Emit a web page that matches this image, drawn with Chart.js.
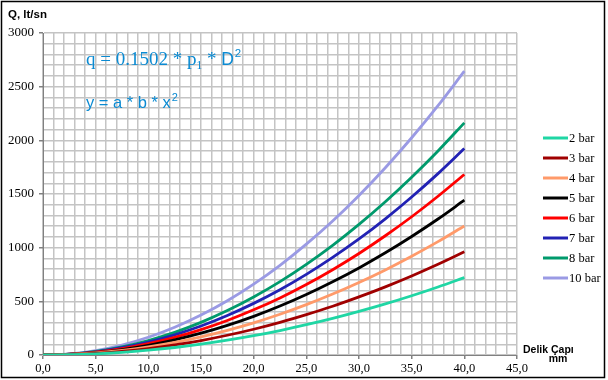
<!DOCTYPE html>
<html>
<head>
<meta charset="utf-8">
<script src="https://cdn.jsdelivr.net/npm/chart.js@4"></script>
<style>
  html, body { margin: 0; padding: 0; background: #fff; }
  #wrap { width: 608px; height: 380px; position: relative; }
  .pre { position: absolute; left: -9999px; top: 0; }
</style>
</head>
<body>
<div id="wrap"><canvas id="c" width="608" height="380"></canvas></div>
<span class="pre" style="font-family:'Liberation Serif'">0,5 bar q</span>
<span class="pre" style="font-family:'Liberation Sans';font-weight:bold">Delik Çapı</span>
<span class="pre" style="font-family:'Liberation Sans'">y = a</span>
<script>
// Hole diameter, mm
const diameters = [0, 2.5, 5, 7.5, 10, 12.5, 15, 17.5, 20, 22.5, 25, 27.5, 30, 32.5, 35, 37.5, 40];
// Flow Q (lt/sn)
const bar2  = [0, 3, 11, 25, 45, 70, 101, 138, 180, 228, 282, 341, 406, 476, 552, 634, 721];
const bar3  = [0, 4, 15, 34, 60, 94, 135, 184, 240, 304, 376, 454, 541, 635, 736, 845, 961];
const bar4  = [0, 5, 19, 42, 75, 117, 169, 230, 300, 380, 469, 568, 676, 793, 920, 1056, 1202];
const bar5  = [0, 6, 23, 51, 90, 141, 203, 276, 360, 456, 563, 682, 811, 952, 1104, 1267, 1442];
const bar6  = [0, 7, 26, 59, 105, 164, 237, 322, 421, 532, 657, 795, 946, 1111, 1288, 1479, 1682];
const bar7  = [0, 8, 30, 68, 120, 188, 270, 368, 481, 608, 751, 909, 1081, 1269, 1472, 1690, 1923];
const bar8  = [0, 8, 34, 76, 135, 211, 304, 414, 541, 684, 845, 1022, 1217, 1428, 1656, 1901, 2163];
const bar10 = [0, 10, 41, 93, 165, 258, 372, 506, 661, 836, 1033, 1249, 1487, 1745, 2024, 2323, 2644];

const seriesLabels = ['2 bar', '3 bar', '4 bar', '5 bar', '6 bar', '7 bar', '8 bar', '10 bar'];
const seriesValues = [bar2, bar3, bar4, bar5, bar6, bar7, bar8, bar10];
const seriesColors = ['#1fd6a4', '#a00000', '#ff9a6a', '#000000', '#ff0000', '#2222b4', '#009a6c', '#9a9ae4'];

const yAxisTitle = 'Q, lt/sn';
const xAxisTitle1 = 'Delik Çapı';
const xAxisTitle2 = 'mm';

const SERIF = "'Liberation Serif', 'Times New Roman', Times, serif";
const SANS = "'Liberation Sans', Arial, sans-serif";

function build() {
  const datasets = seriesValues.map((vals, i) => ({
    label: seriesLabels[i],
    data: vals.map((v, j) => ({ x: diameters[j], y: v })),
    borderColor: seriesColors[i],
    backgroundColor: seriesColors[i],
    borderWidth: 2.8,
    pointRadius: 0,
    fill: false,
    cubicInterpolationMode: 'monotone'
  }));

  const extras = {
    id: 'extras',
    afterDraw(chart) {
      const ctx = chart.ctx;
      ctx.save();
      ctx.strokeStyle = '#000';
      ctx.lineWidth = 1.5;
      ctx.strokeRect(1.5, 1.5, 603, 376);

      ctx.fillStyle = '#000';
      ctx.font = 'bold 11.5px ' + SANS;
      ctx.textBaseline = 'alphabetic';
      ctx.textAlign = 'left';
      ctx.fillText(yAxisTitle, 8, 18);

      ctx.font = 'bold 10.5px ' + SANS;
      ctx.fillText(xAxisTitle1, 523, 353);
      ctx.textAlign = 'center';
      ctx.fillText(xAxisTitle2, 558, 362);

      const blue = '#0a8ad2';
      ctx.fillStyle = blue;
      ctx.textAlign = 'left';
      let x = 86, y = 65;
      ctx.font = '19px ' + SERIF;
      let s = 'q = 0.1502 * p';
      ctx.fillText(s, x, y); x += ctx.measureText(s).width;
      ctx.font = '11.5px ' + SERIF;
      ctx.fillText('1', x, y + 4); x += ctx.measureText('1').width;
      ctx.font = '19px ' + SERIF;
      s = ' * ';
      ctx.fillText(s, x, y); x += ctx.measureText(s).width;
      ctx.font = '17.5px ' + SANS;
      ctx.fillText('D', x, y); x += ctx.measureText('D').width;
      ctx.font = '11.5px ' + SANS;
      ctx.fillText('2', x + 1, y - 8);

      x = 86; y = 108;
      ctx.font = '16.5px ' + SANS;
      s = 'y = a * b * x';
      ctx.fillText(s, x, y); x += ctx.measureText(s).width;
      ctx.font = '11px ' + SANS;
      ctx.fillText('2', x + 1, y - 7);

      ctx.font = '12.5px ' + SERIF;
      ctx.textBaseline = 'middle';
      ctx.textAlign = 'left';
      chart.data.datasets.forEach((ds, i) => {
        const ly = 138 + 20 * i;
        ctx.strokeStyle = ds.borderColor;
        ctx.lineWidth = 3;
        ctx.beginPath();
        ctx.moveTo(543, ly);
        ctx.lineTo(568, ly);
        ctx.stroke();
        ctx.fillStyle = '#000';
        ctx.fillText(ds.label, 569, ly + 1);
      });
      ctx.restore();
    }
  };

  new Chart(document.getElementById('c'), {
    type: 'line',
    data: { datasets },
    options: {
      responsive: false,
      animation: false,
      devicePixelRatio: 1,
      layout: { padding: { left: 0, top: 33, right: 91, bottom: 0 } },
      plugins: { legend: { display: false }, tooltip: { enabled: false } },
      scales: {
        x: {
          type: 'linear',
          min: 0, max: 45,
          afterFit: s => { s.height = 25; },
          ticks: {
            stepSize: 1,
            autoSkip: false,
            maxRotation: 0,
            padding: 2,
            color: '#000',
            font: { family: SERIF, size: 12.5 },
            callback: v => (v % 5 === 0 ? v.toFixed(1).replace('.', ',') : '')
          },
          grid: {
            color: '#c4c4c4',
            lineWidth: 1.5,
            tickLength: 4,
            tickColor: c => (c.tick && c.tick.value % 5 === 0 ? '#808080' : 'rgba(0,0,0,0)')
          },
          border: { color: '#808080', width: 1 }
        },
        y: {
          type: 'linear',
          min: 0, max: 3000,
          afterFit: s => { s.width = 43; },
          ticks: {
            stepSize: 100,
            autoSkip: false,
            padding: 5,
            color: '#000',
            font: { family: SERIF, size: 13 },
            callback: v => (v % 500 === 0 ? String(v) : '')
          },
          grid: {
            color: '#c4c4c4',
            lineWidth: 1.5,
            tickLength: 4,
            tickColor: c => (c.tick && c.tick.value % 500 === 0 ? '#808080' : 'rgba(0,0,0,0)')
          },
          border: { color: '#808080', width: 1 }
        }
      }
    },
    plugins: [extras]
  });
}

Promise.all([
  document.fonts.load("12px 'Liberation Serif'"),
  document.fonts.load("bold 11px 'Liberation Sans'"),
  document.fonts.load("12px 'Liberation Sans'")
]).then(build, build);
</script>
</body>
</html>
